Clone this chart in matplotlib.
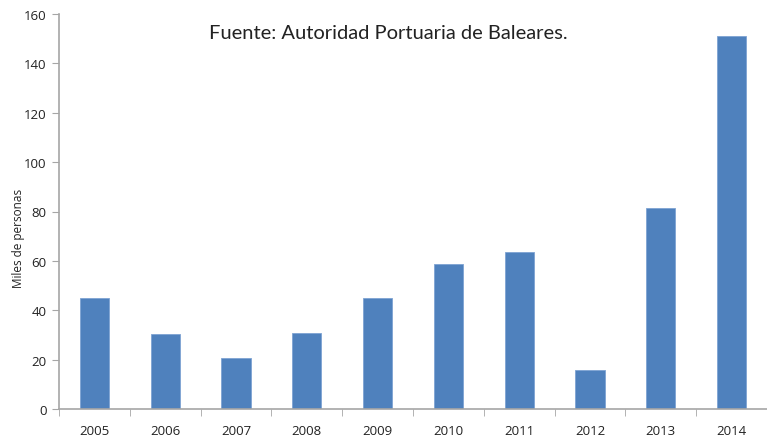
import matplotlib
matplotlib.use('Agg')
import matplotlib.pyplot as plt
import numpy as np

years = ['2005', '2006', '2007', '2008', '2009', '2010', '2011', '2012', '2013', '2014']
values = [45, 30.4, 20.6, 30.8, 45, 58.7, 63.6, 15.8, 81.3, 151]

plt.rcParams['font.family'] = ['Open Sans', 'DejaVu Sans']

fig = plt.figure(figsize=(7.67, 4.39), dpi=100)
# axes: left spine at x=59px, zero line at y=410px, 160 at y=15px
ax = fig.add_axes([59/767, (439-410)/439, 1 - 59/767, (410-15)/439])

x = np.arange(len(years))
ax.bar(x, values, width=0.41, color='#4F81BD', edgecolor='#7EA3D3', linewidth=0.6, zorder=2)

ax.set_ylim(0, 160)
ax.set_yticks(range(0, 161, 20))
ax.set_xlim(-0.5, 9.42)
ax.set_xticks(x)
ax.set_xticklabels(years)
ax.set_xticks(np.arange(-0.5, 10, 1), minor=True)

for s in ['top', 'right']:
    ax.spines[s].set_visible(False)
for s in ['left', 'bottom']:
    ax.spines[s].set_color('#A6A6A6')
    ax.spines[s].set_linewidth(1.2)

ax.tick_params(axis='x', which='major', length=0, pad=11, labelsize=9.5, colors='#222222')
ax.tick_params(axis='x', which='minor', length=5, color='#A6A6A6', direction='out')
ax.tick_params(axis='y', length=5, color='#A6A6A6', labelsize=9.5, colors='#222222', pad=4)

ax.set_ylabel('Miles de personas', fontsize=8.5, color='#222222')
ax.yaxis.set_label_coords(-0.048, 0.435)
ax.text(0.465, 0.975, 'Fuente: Autoridad Portuaria de Baleares.', transform=ax.transAxes,
        ha='center', va='top', fontsize=14.5, color='#222222', family=['Lato', 'DejaVu Sans'])

fig.savefig('out.png', dpi=100)
